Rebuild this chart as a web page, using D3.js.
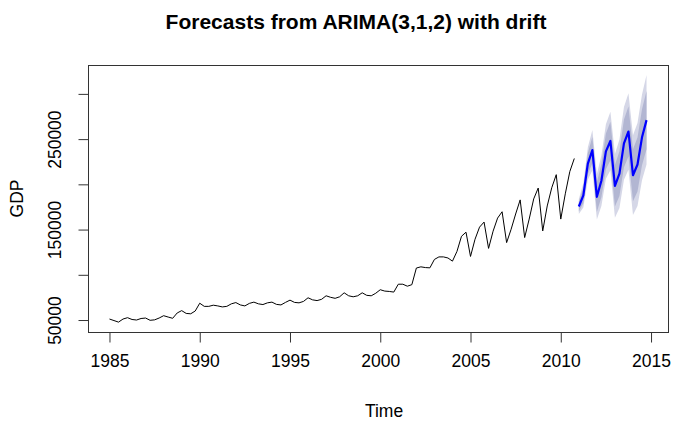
<!DOCTYPE html>
<html><head><meta charset="utf-8">
<script src="https://cdn.jsdelivr.net/npm/d3@7"></script>
<style>
body{margin:0;background:#fff}
svg{display:block}
text{font-family:"Liberation Sans",Arial,sans-serif;fill:#000}
</style>
</head><body>
<script>
const title = "Forecasts from ARIMA(3,1,2) with drift";
const xLabel = "Time";
const yLabel = "GDP";
const seriesStart = 1985;      // quarterly observations
const forecastStart = 2011;
const freq = 4;

const gdp = [
  51100, 49400, 47700, 51100,
  52600, 50600, 50000, 51700,
  52200, 49700, 50200, 52200,
  54800, 53300, 51900, 57800,
  60400, 57300, 56900, 60000,
  68600, 65100, 65100, 66400,
  65600, 64500, 65100, 67900,
  69300, 66700, 65600, 68400,
  69800, 67900, 67100, 69000,
  69800, 67300, 66700, 69500,
  72000, 69500, 69000, 70600,
  74600, 72300, 71500, 72900,
  76800, 75100, 74000, 75700,
  80100, 76800, 75700, 76800,
  80100, 77300, 76800, 79600,
  83500, 82000, 81600, 80900,
  89600, 89600, 87400, 89100,
  107500, 108800, 108000, 107700,
  117000, 119800, 119800, 118600,
  115100, 125900, 142600, 147100,
  120300, 139300, 152700, 158300,
  129200, 148200, 162700, 169700,
  135600, 150400, 167200, 182800,
  141200, 161600, 183900, 195900,
  148500, 176100, 196200, 210700,
  161600, 189500, 214100, 228600
];

const fcMean = [175500, 187800, 223000, 237800, 186200, 204000, 236400, 247900,
                198400, 211800, 245300, 258400, 210100, 221900, 252000, 271000];
const hi95 = [183900, 201200, 240900, 260100, 211300, 231900, 266500, 280300,
              233600, 249700, 285500, 300800, 254200, 267700, 299400, 321000];
const lo95 = [167100, 174400, 205100, 215500, 161100, 176100, 206300, 215500,
              163200, 173900, 205100, 216000, 166000, 176100, 204600, 221900];
const hi80 = [181000, 196500, 234700, 252400, 202600, 222200, 256100, 269100,
              221400, 236500, 271600, 286100, 238900, 251800, 283000, 303100];
const lo80 = [170000, 179100, 211300, 223200, 169800, 185800, 216700, 226700,
              175400, 187100, 219000, 230700, 181300, 192000, 221000, 238900];

const xTicks = [1985, 1990, 1995, 2000, 2005, 2010, 2015];
const yTicks = [50000, 100000, 150000, 200000, 250000, 300000];
const yTickLabels = [50000, 150000, 250000];

const W = 685, H = 421;
const plot = {left: 88, right: 668, top: 65, bottom: 332};
const axisFont = 17.5, titleFont = 21;

const obs = gdp.map((v, i) => ({t: seriesStart + i / freq, v}));
const fc = fcMean.map((v, i) => ({t: forecastStart + i / freq, v,
  lo80: lo80[i], hi80: hi80[i], lo95: lo95[i], hi95: hi95[i]}));

// R-style 4% axis extension
const tMin = d3.min(obs, d => d.t), tMax = d3.max(fc, d => d.t);
const vMin = Math.min(d3.min(obs, d => d.v), d3.min(fc, d => d.lo95));
const vMax = Math.max(d3.max(obs, d => d.v), d3.max(fc, d => d.hi95));
const tPad = 0.04 * (tMax - tMin), vPad = 0.04 * (vMax - vMin);

const x = d3.scaleLinear().domain([tMin - tPad, tMax + tPad]).range([plot.left, plot.right]);
const y = d3.scaleLinear().domain([vMin - vPad, vMax + vPad]).range([plot.bottom, plot.top]);

const svg = d3.select("body").append("svg").attr("width", W).attr("height", H);

// bands
const area = (lo, hi) => d3.area().x(d => x(d.t)).y0(d => y(d[lo])).y1(d => y(d[hi]));
svg.append("path").datum(fc).attr("d", area("lo95", "hi95")).attr("fill", "#d5d7e7");
svg.append("path").datum(fc).attr("d", area("lo80", "hi80")).attr("fill", "#b2b6d2");

// lines
const line = d3.line().x(d => x(d.t)).y(d => y(d.v));
svg.append("path").datum(obs).attr("d", line).attr("fill", "none")
  .attr("stroke", "#000").attr("stroke-width", 1).attr("stroke-linejoin", "round");
svg.append("path").datum(fc).attr("d", line).attr("fill", "none")
  .attr("stroke", "#0000ff").attr("stroke-width", 2.2).attr("stroke-linejoin", "round");

// box
svg.append("rect").attr("x", plot.left + 0.5).attr("y", plot.top + 0.5)
  .attr("width", plot.right - plot.left).attr("height", plot.bottom - plot.top)
  .attr("fill", "none").attr("stroke", "#333").attr("stroke-width", 1);

// x axis
const xAxis = d3.axisBottom(x).tickValues(xTicks).tickSize(10).tickPadding(12).tickFormat(d3.format("d"));
const gx = svg.append("g").attr("transform", `translate(0,${plot.bottom + 0.5})`).call(xAxis);
gx.select(".domain").attr("d", `M${x(xTicks[0])},0H${x(xTicks[xTicks.length-1])}`).attr("stroke", "#333");
gx.selectAll(".tick line").attr("stroke", "#333");
gx.selectAll("text").attr("font-size", axisFont).style("font-family", "Liberation Sans, Arial, sans-serif").attr("fill", "#000");

// y axis
const yAxis = d3.axisLeft(y).tickValues(yTicks).tickSize(10)
  .tickFormat(d => yTickLabels.includes(d) ? d3.format("d")(d) : "");
const gy = svg.append("g").attr("transform", `translate(${plot.left + 0.5},0)`).call(yAxis);
gy.select(".domain").attr("d", `M0,${y(yTicks[0])}V${y(yTicks[yTicks.length-1])}`).attr("stroke", "#333");
gy.selectAll(".tick line").attr("stroke", "#333");
gy.selectAll("text").attr("font-size", axisFont).style("font-family", "Liberation Sans, Arial, sans-serif")
  .attr("fill", "#000").attr("text-anchor", "middle").attr("x", null).attr("dy", null)
  .attr("transform", "translate(-24,0) rotate(-90)").attr("y", 0).attr("dy", "-0.2em");

// titles
svg.append("text").attr("x", 356).attr("y", 29)
  .attr("text-anchor", "middle").attr("font-size", titleFont).attr("font-weight", "bold").text(title);
svg.append("text").attr("x", 384).attr("y", 417)
  .attr("text-anchor", "middle").attr("font-size", axisFont).text(xLabel);
svg.append("text").attr("transform", `translate(23,${(plot.top + plot.bottom) / 2}) rotate(-90)`)
  .attr("text-anchor", "middle").attr("font-size", axisFont).text(yLabel);
</script>
</body></html>
